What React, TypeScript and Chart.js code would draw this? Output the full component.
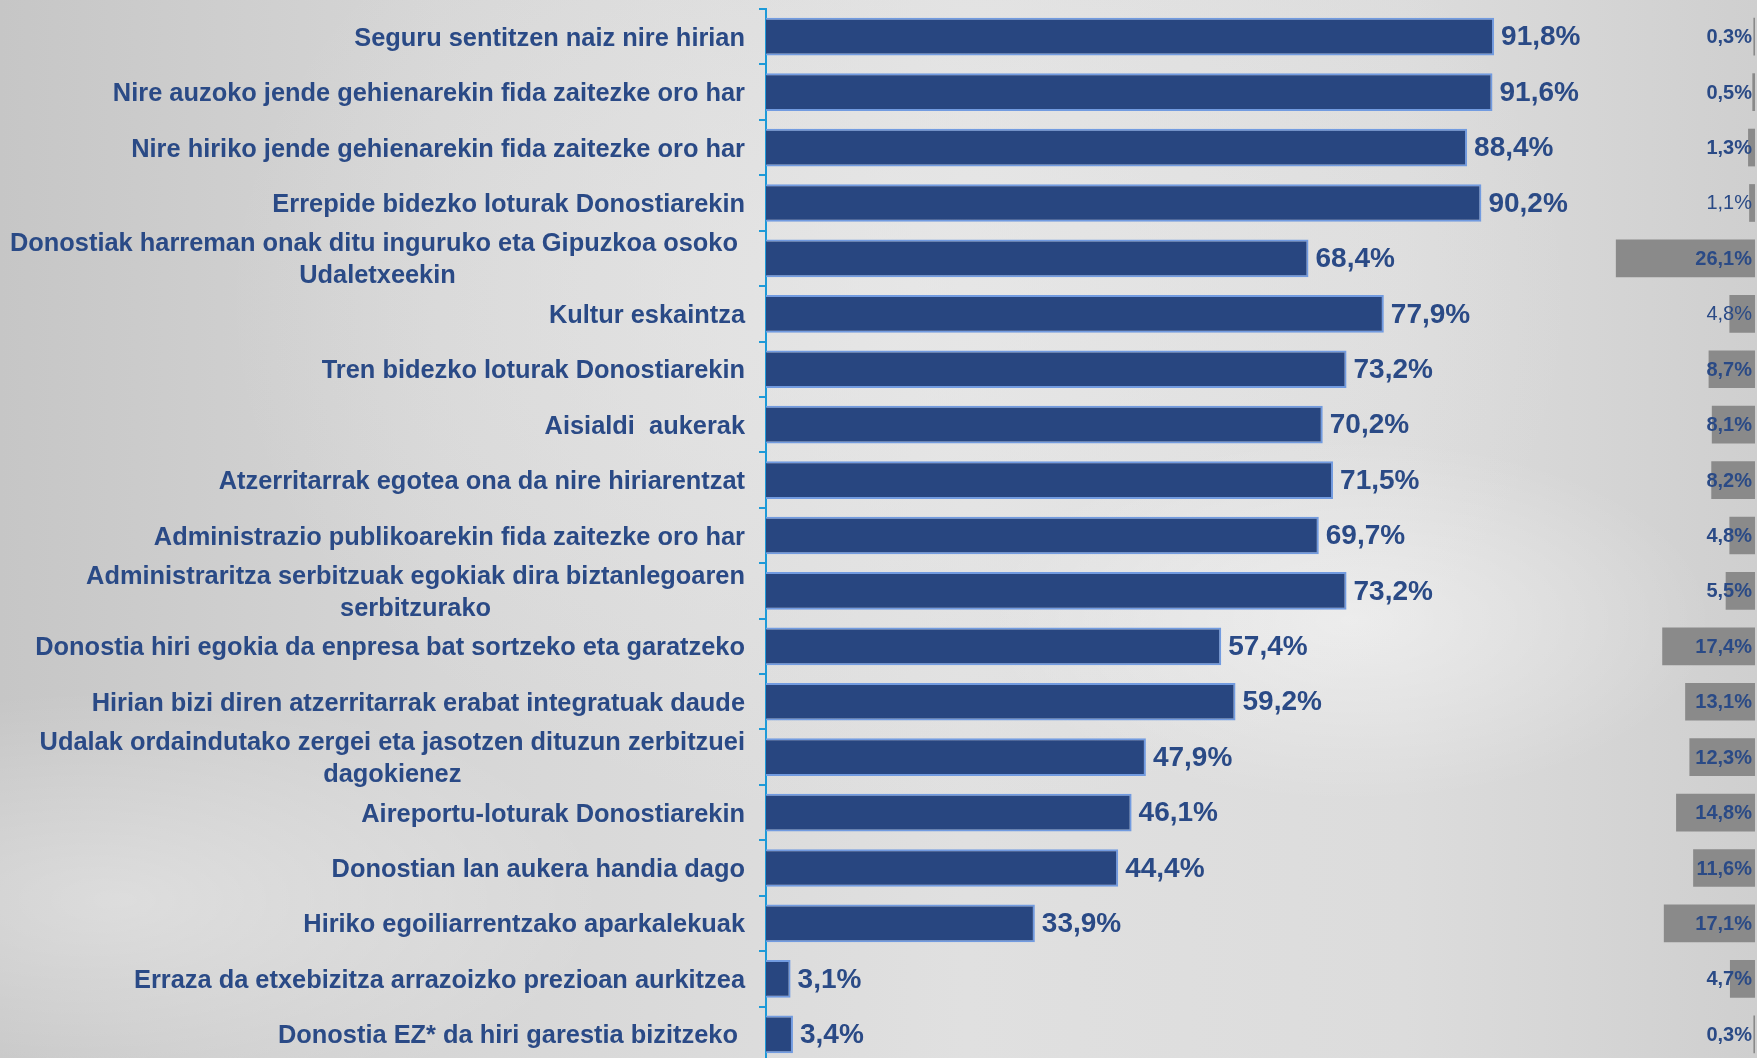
import React, { useEffect, useRef } from "react";
import { Chart, registerables } from "chart.js";

Chart.register(...registerables);

const categories: (string | string[])[] = [
  "Seguru sentitzen naiz nire hirian",
  "Nire auzoko jende gehienarekin fida zaitezke oro har",
  "Nire hiriko jende gehienarekin fida zaitezke oro har",
  "Errepide bidezko loturak Donostiarekin",
  ["Donostiak harreman onak ditu inguruko eta Gipuzkoa osoko ", "Udaletxeekin"],
  "Kultur eskaintza",
  "Tren bidezko loturak Donostiarekin",
  "Aisialdi  aukerak",
  "Atzerritarrak egotea ona da nire hiriarentzat",
  "Administrazio publikoarekin fida zaitezke oro har",
  ["Administraritza serbitzuak egokiak dira biztanlegoaren", "serbitzurako"],
  "Donostia hiri egokia da enpresa bat sortzeko eta garatzeko",
  "Hirian bizi diren atzerritarrak erabat integratuak daude",
  ["Udalak ordaindutako zergei eta jasotzen dituzun zerbitzuei", "dagokienez"],
  "Aireportu-loturak Donostiarekin",
  "Donostian lan aukera handia dago",
  "Hiriko egoiliarrentzako aparkalekuak",
  "Erraza da etxebizitza arrazoizko prezioan aurkitzea",
  "Donostia EZ* da hiri garestia bizitzeko ",
];

const agreeValues = [91.8, 91.6, 88.4, 90.2, 68.4, 77.9, 73.2, 70.2, 71.5, 69.7, 73.2, 57.4, 59.2, 47.9, 46.1, 44.4, 33.9, 3.1, 3.4];
const otherValues = [0.3, 0.5, 1.3, 1.1, 26.1, 4.8, 8.7, 8.1, 8.2, 4.8, 5.5, 17.4, 13.1, 12.3, 14.8, 11.6, 17.1, 4.7, 0.3];

// style constants
const NAVY = "#2a4a86";
const BAR_FILL = "#284680";
const BAR_EDGE = "#729be0";
const GREY_BAR = "#8a8a8a";
const AXIS_BLUE = "#1d9ad8";
const FONT_FAMILY = '"Liberation Sans", Arial, sans-serif';
const regularGreyLabels = new Set([3, 5]);

const fmt = (v: number) => v.toFixed(1).replace(".", ",") + "%";

const labelPlugin = {
  id: "customLabels",
  afterDatasetsDraw(chart: any) {
    const ctx = chart.ctx as CanvasRenderingContext2D;
    const yScale = chart.scales.y;
    const area = chart.chartArea;
    ctx.save();
    // category labels
    ctx.fillStyle = NAVY;
    ctx.font = `bold 25.4px ${FONT_FAMILY}`;
    ctx.textBaseline = "middle";
    ctx.textAlign = "center";
    const rightX = area.left - 21;
    const lineH = 32;
    categories.forEach((lab, i) => {
      const lines = Array.isArray(lab) ? lab : [lab];
      const cy = yScale.getPixelForValue(i) + 2;
      const maxW = Math.max(...lines.map((l) => ctx.measureText(l).width));
      const cx = rightX - maxW / 2;
      lines.forEach((l, j) => {
        const y = cy + (j - (lines.length - 1) / 2) * lineH;
        ctx.fillText(l, cx, y);
      });
    });

    // blue value labels
    const meta0 = chart.getDatasetMeta(0);
    ctx.textAlign = "left";
    ctx.font = `bold 28px ${FONT_FAMILY}`;
    meta0.data.forEach((bar: any, i: number) => {
      ctx.fillText(fmt(agreeValues[i]), bar.x + 7, bar.y + 1);
    });

    // grey value labels
    const meta1 = chart.getDatasetMeta(1);
    ctx.textAlign = "right";
    meta1.data.forEach((bar: any, i: number) => {
      const w = regularGreyLabels.has(i) ? "normal" : "bold";
      ctx.font = `${w} 20px ${FONT_FAMILY}`;
      ctx.fillText(fmt(otherValues[i]), area.right - 3, bar.y + 1);
    });
    ctx.restore();
  },
};

export default function App() {
  const canvasRef = useRef<HTMLCanvasElement | null>(null);

  useEffect(() => {
    document.body.style.margin = "0";
    document.body.style.overflow = "hidden";
    const canvas = canvasRef.current;
    if (!canvas) return;
    const chart = new Chart(canvas, {
      type: "bar",
      data: {
        labels: categories.map((c) => (Array.isArray(c) ? c.join(" ") : c)),
        datasets: [
          {
            label: "Ados",
            data: agreeValues,
            xAxisID: "x",
            backgroundColor: BAR_FILL,
            borderColor: BAR_EDGE,
            borderWidth: 2,
            grouped: false,
            barPercentage: 0.68,
            categoryPercentage: 1,
            order: 1,
          },
          {
            label: "Beste",
            data: otherValues,
            xAxisID: "x2",
            backgroundColor: GREY_BAR,
            borderWidth: 0,
            grouped: false,
            barPercentage: 0.68,
            categoryPercentage: 1,
            order: 2,
          },
        ],
      },
      options: {
        indexAxis: "y",
        animation: false,
        responsive: true,
        maintainAspectRatio: false,
        layout: { padding: { top: 9, right: 2, bottom: 0, left: 0 } },
        plugins: {
          legend: { display: false },
          tooltip: { enabled: false },
        },
        scales: {
          x: { type: "linear", min: 0, max: 124.7, display: false },
          x2: { type: "linear", min: 0, max: 185.5, reverse: true, display: false },
          y: {
            type: "category",
            offset: true,
            ticks: { display: false },
            grid: {
              display: true,
              drawOnChartArea: false,
              drawTicks: true,
              tickLength: 7,
              color: AXIS_BLUE,
              lineWidth: 2,
              offset: true,
            },
            border: { display: true, color: AXIS_BLUE, width: 2 },
            afterFit: (scale: any) => {
              scale.width = 766;
            },
          },
        },
      } as any,
      plugins: [labelPlugin],
    });
    return () => chart.destroy();
  }, []);

  const bg = [
    "radial-gradient(ellipse 520px 260px at 1350px 620px, rgba(255,255,255,0.45), rgba(255,255,255,0) 70%)",
    "radial-gradient(ellipse 700px 300px at 120px 900px, rgba(255,255,255,0.35), rgba(255,255,255,0) 70%)",
    "radial-gradient(ellipse 900px 700px at 900px 300px, rgba(235,235,235,0.6), rgba(235,235,235,0) 75%)",
    "linear-gradient(90deg, #c6c6c6 0%, #d6d6d6 25%, #e0e0e0 55%, #dcdcdc 80%, #cfcfcf 100%)",
  ].join(", ");

  return (
    <div style={{ width: 1757, height: 1058, position: "relative", overflow: "hidden", background: bg }}>
      <div style={{ width: 1757, height: 1062, position: "relative" }}>
        <canvas ref={canvasRef} />
      </div>
    </div>
  );
}
